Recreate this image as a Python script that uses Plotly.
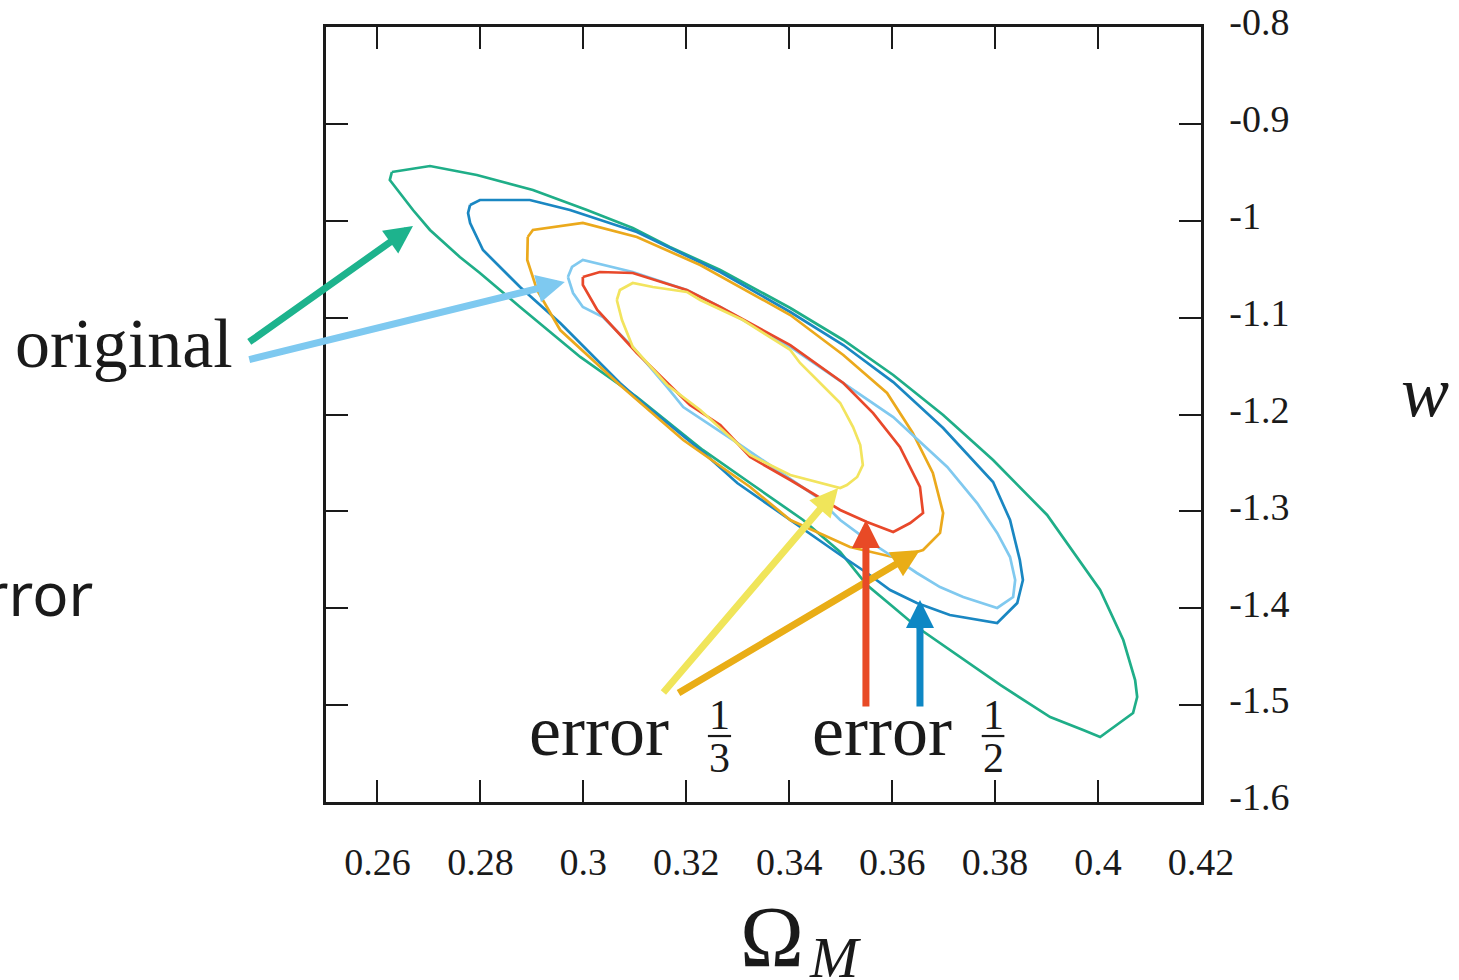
import plotly.graph_objects as go

# ---------------- data (Omega_M, w) ----------------
green_x = [0.2628,0.2702,0.2793,0.2902,0.3007,0.3096,0.3168,0.3266,0.3402,0.3505,0.3602,0.3699,0.3796,0.3901,0.4004,0.4049,0.4072,0.4076,0.4068,0.4004,0.3971,0.3907,0.3810,0.3712,0.3648,0.3602,0.3551,0.3499,0.3427,0.3324,0.3232,0.3104,0.2994,0.2877,0.2799,0.2760,0.2702,0.2669,0.2638,0.2624]
green_y = [-0.9497,-0.9435,-0.9528,-0.9683,-0.9889,-1.0075,-1.0271,-1.0508,-1.0901,-1.1231,-1.1592,-1.2005,-1.2470,-1.3037,-1.3812,-1.4328,-1.4741,-1.4916,-1.5081,-1.5329,-1.5257,-1.5123,-1.4792,-1.4431,-1.4194,-1.3987,-1.3760,-1.3419,-1.3089,-1.2707,-1.2366,-1.1819,-1.1406,-1.0890,-1.0539,-1.0374,-1.0095,-0.9889,-0.9683,-0.9579]

blue_x = [0.2780,0.2799,0.2896,0.2974,0.3104,0.3266,0.3402,0.3505,0.3602,0.3699,0.3796,0.3829,0.3848,0.3854,0.3843,0.3804,0.3712,0.3648,0.3596,0.3551,0.3505,0.3402,0.3299,0.3232,0.3104,0.3071,0.2955,0.2877,0.2805,0.2780,0.2776]
blue_y = [-0.9837,-0.9786,-0.9786,-0.9889,-1.0116,-1.0529,-1.0942,-1.1283,-1.1665,-1.2139,-1.2697,-1.3089,-1.3502,-1.3708,-1.3946,-1.4152,-1.4070,-1.3946,-1.3812,-1.3636,-1.3471,-1.3089,-1.2707,-1.2387,-1.1830,-1.1675,-1.1055,-1.0684,-1.0302,-1.0023,-0.9920]

orange_x = [0.2892,0.2902,0.2999,0.3104,0.3227,0.3402,0.3505,0.3590,0.3640,0.3679,0.3699,0.3693,0.3660,0.3609,0.3518,0.3402,0.3324,0.3194,0.3071,0.2955,0.2910,0.2891]
orange_y = [-1.0168,-1.0095,-1.0023,-1.0168,-1.0457,-1.0973,-1.1386,-1.1778,-1.2191,-1.2604,-1.3017,-1.3223,-1.3399,-1.3481,-1.3368,-1.3089,-1.2748,-1.2263,-1.1695,-1.1128,-1.0715,-1.0405]

lblue_x = [0.2970,0.2978,0.2999,0.3096,0.3201,0.3266,0.3402,0.3505,0.3602,0.3707,0.3765,0.3804,0.3829,0.3839,0.3835,0.3804,0.3738,0.3693,0.3648,0.3602,0.3551,0.3499,0.3454,0.3299,0.3194,0.3164,0.3096,0.3038,0.2999,0.2980]
lblue_y = [-1.0581,-1.0477,-1.0405,-1.0529,-1.0715,-1.0890,-1.1303,-1.1675,-1.2026,-1.2542,-1.2914,-1.3223,-1.3471,-1.3708,-1.3884,-1.3997,-1.3884,-1.3781,-1.3636,-1.3471,-1.3295,-1.3089,-1.2852,-1.2294,-1.1923,-1.1726,-1.1303,-1.0994,-1.0890,-1.0746]

red_x = [0.2999,0.3032,0.3096,0.3201,0.3266,0.3402,0.3505,0.3563,0.3615,0.3654,0.3660,0.3635,0.3602,0.3551,0.3499,0.3402,0.3324,0.3266,0.3207,0.3104,0.3027,0.2999]
red_y = [-1.0581,-1.0529,-1.0539,-1.0715,-1.0890,-1.1283,-1.1675,-1.1985,-1.2335,-1.2748,-1.3017,-1.3120,-1.3213,-1.3110,-1.2986,-1.2676,-1.2439,-1.2108,-1.1902,-1.1365,-1.0921,-1.0663]

yellow_x = [0.3065,0.3071,0.3096,0.3135,0.3201,0.3227,0.3310,0.3402,0.3421,0.3499,0.3524,0.3538,0.3543,0.3532,0.3512,0.3499,0.3402,0.3324,0.3227,0.3163,0.3096,0.3075]
yellow_y = [-1.0818,-1.0715,-1.0643,-1.0684,-1.0735,-1.0818,-1.1025,-1.1334,-1.1468,-1.1881,-1.2129,-1.2315,-1.2521,-1.2645,-1.2728,-1.2759,-1.2625,-1.2418,-1.1954,-1.1695,-1.1303,-1.1025]

x_ticks = [0.26, 0.28, 0.30, 0.32, 0.34, 0.36, 0.38, 0.40, 0.42]
x_ticktext = ["0.26", "0.28", "0.3", "0.32", "0.34", "0.36", "0.38", "0.4", "0.42"]
y_ticks = [-1.6, -1.5, -1.4, -1.3, -1.2, -1.1, -1.0, -0.9, -0.8]
y_ticktext = ["-1.6", "-1.5", "-1.4", "-1.3", "-1.2", "-1.1", "-1", "-0.9", "-0.8"]

# arrows: tail -> head (data coordinates) and colour
arrow_tail_x = [0.2348, 0.2348, 0.3153, 0.3182, 0.3549, 0.3654]
arrow_tail_y = [-1.1262, -1.1437, -1.4885, -1.4885, -1.5030, -1.5030]
arrow_head_x = [0.2669, 0.2964, 0.3495, 0.3654, 0.3549, 0.3654]
arrow_head_y = [-1.0054, -1.0632, -1.2759, -1.3399, -1.3089, -1.3915]
arrow_colors = ["#1db38d", "#7ec9f0", "#f0e55a", "#e9ad16", "#e84a26", "#0e87c4"]

contours = [
    (green_x, green_y, "#1fae88"),
    (blue_x, blue_y, "#1a87c2"),
    (orange_x, orange_y, "#eba91c"),
    (lblue_x, lblue_y, "#80c9ef"),
    (red_x, red_y, "#e8482a"),
    (yellow_x, yellow_y, "#f2e45e"),
]

SERIF = "Liberation Serif, Times New Roman, serif"
INK = "#1a1a1a"

fig = go.Figure()
for xs, ys, col in contours:
    fig.add_trace(go.Scatter(
        x=list(xs) + [xs[0]], y=list(ys) + [ys[0]], mode="lines",
        line=dict(color=col, width=2.7), showlegend=False, hoverinfo="skip"))

annotations = []
for tx, ty, hx, hy, col in zip(arrow_tail_x, arrow_tail_y, arrow_head_x, arrow_head_y, arrow_colors):
    annotations.append(dict(
        x=hx, y=hy, ax=tx, ay=ty, xref="x", yref="y", axref="x", ayref="y",
        text="", showarrow=True, arrowhead=2, arrowsize=0.8, arrowwidth=7,
        arrowcolor=col, standoff=0, startstandoff=0))

# labels
annotations += [
    dict(text="original", x=-0.104, y=0.592, xref="paper", yref="paper",
         xanchor="right", yanchor="middle", showarrow=False,
         font=dict(family=SERIF, size=70, color=INK)),
    dict(text="error", x=-0.264, y=0.27, xref="paper", yref="paper",
         xanchor="right", yanchor="middle", showarrow=False,
         font=dict(family="Noto Sans, sans-serif", size=60, color=INK)),
    dict(text="error", x=0.2890, y=-1.527, xref="x", yref="y",
         xanchor="left", yanchor="middle", showarrow=False,
         font=dict(family=SERIF, size=72, color=INK)),
    dict(text="error", x=0.3440, y=-1.527, xref="x", yref="y",
         xanchor="left", yanchor="middle", showarrow=False,
         font=dict(family=SERIF, size=72, color=INK)),
    dict(text="1", x=0.3264, y=-1.5102, xref="x", yref="y", showarrow=False,
         font=dict(family=SERIF, size=42, color=INK)),
    dict(text="3", x=0.3264, y=-1.5546, xref="x", yref="y", showarrow=False,
         font=dict(family=SERIF, size=42, color=INK)),
    dict(text="1", x=0.3796, y=-1.5102, xref="x", yref="y", showarrow=False,
         font=dict(family=SERIF, size=42, color=INK)),
    dict(text="2", x=0.3796, y=-1.5546, xref="x", yref="y", showarrow=False,
         font=dict(family=SERIF, size=42, color=INK)),
    dict(text="<i>w</i>", x=1.2560, y=0.529, xref="paper", yref="paper",
         xanchor="center", yanchor="middle", showarrow=False,
         font=dict(family=SERIF, size=72, color=INK)),
    dict(text="Ω", x=0.5097, y=-0.174, xref="paper", yref="paper",
         xanchor="center", yanchor="middle", showarrow=False,
         font=dict(family=SERIF, size=86, color=INK)),
    dict(text="<i>M</i>", x=0.5817, y=-0.201, xref="paper", yref="paper",
         xanchor="center", yanchor="middle", showarrow=False,
         font=dict(family=SERIF, size=58, color=INK)),
]

shapes = [
    dict(type="line", xref="x", yref="y", x0=0.3242, x1=0.3287, y0=-1.5319, y1=-1.5319,
         line=dict(color=INK, width=2.2)),
    dict(type="line", xref="x", yref="y", x0=0.3774, x1=0.3818, y0=-1.5319, y1=-1.5319,
         line=dict(color=INK, width=2.2)),
]

axis_common = dict(
    ticks="inside", ticklen=22, tickwidth=2, tickcolor=INK,
    showline=True, linewidth=2.5, linecolor=INK, mirror="ticks",
    showgrid=False, zeroline=False, automargin=False,
    ticklabeloverflow="allow",
    tickfont=dict(family=SERIF, size=38, color=INK),
)

fig.update_layout(
    width=1459, height=980, autosize=False,
    margin=dict(l=326, r=258, t=27, b=178, pad=0),
    paper_bgcolor="white", plot_bgcolor="white",
    xaxis=dict(range=[0.25, 0.42], tickmode="array", tickvals=x_ticks,
               ticktext=x_ticktext, ticklabelstandoff=25, **axis_common),
    yaxis=dict(range=[-1.6, -0.8], tickmode="array", tickvals=y_ticks,
               ticktext=y_ticktext, side="right", ticklabelstandoff=18,
               ticklabelshift=-5, **axis_common),
    annotations=annotations, shapes=shapes, showlegend=False,
)

fig.write_html("out.html", config={"displayModeBar": False},
               post_script="document.body.style.margin='0';")
